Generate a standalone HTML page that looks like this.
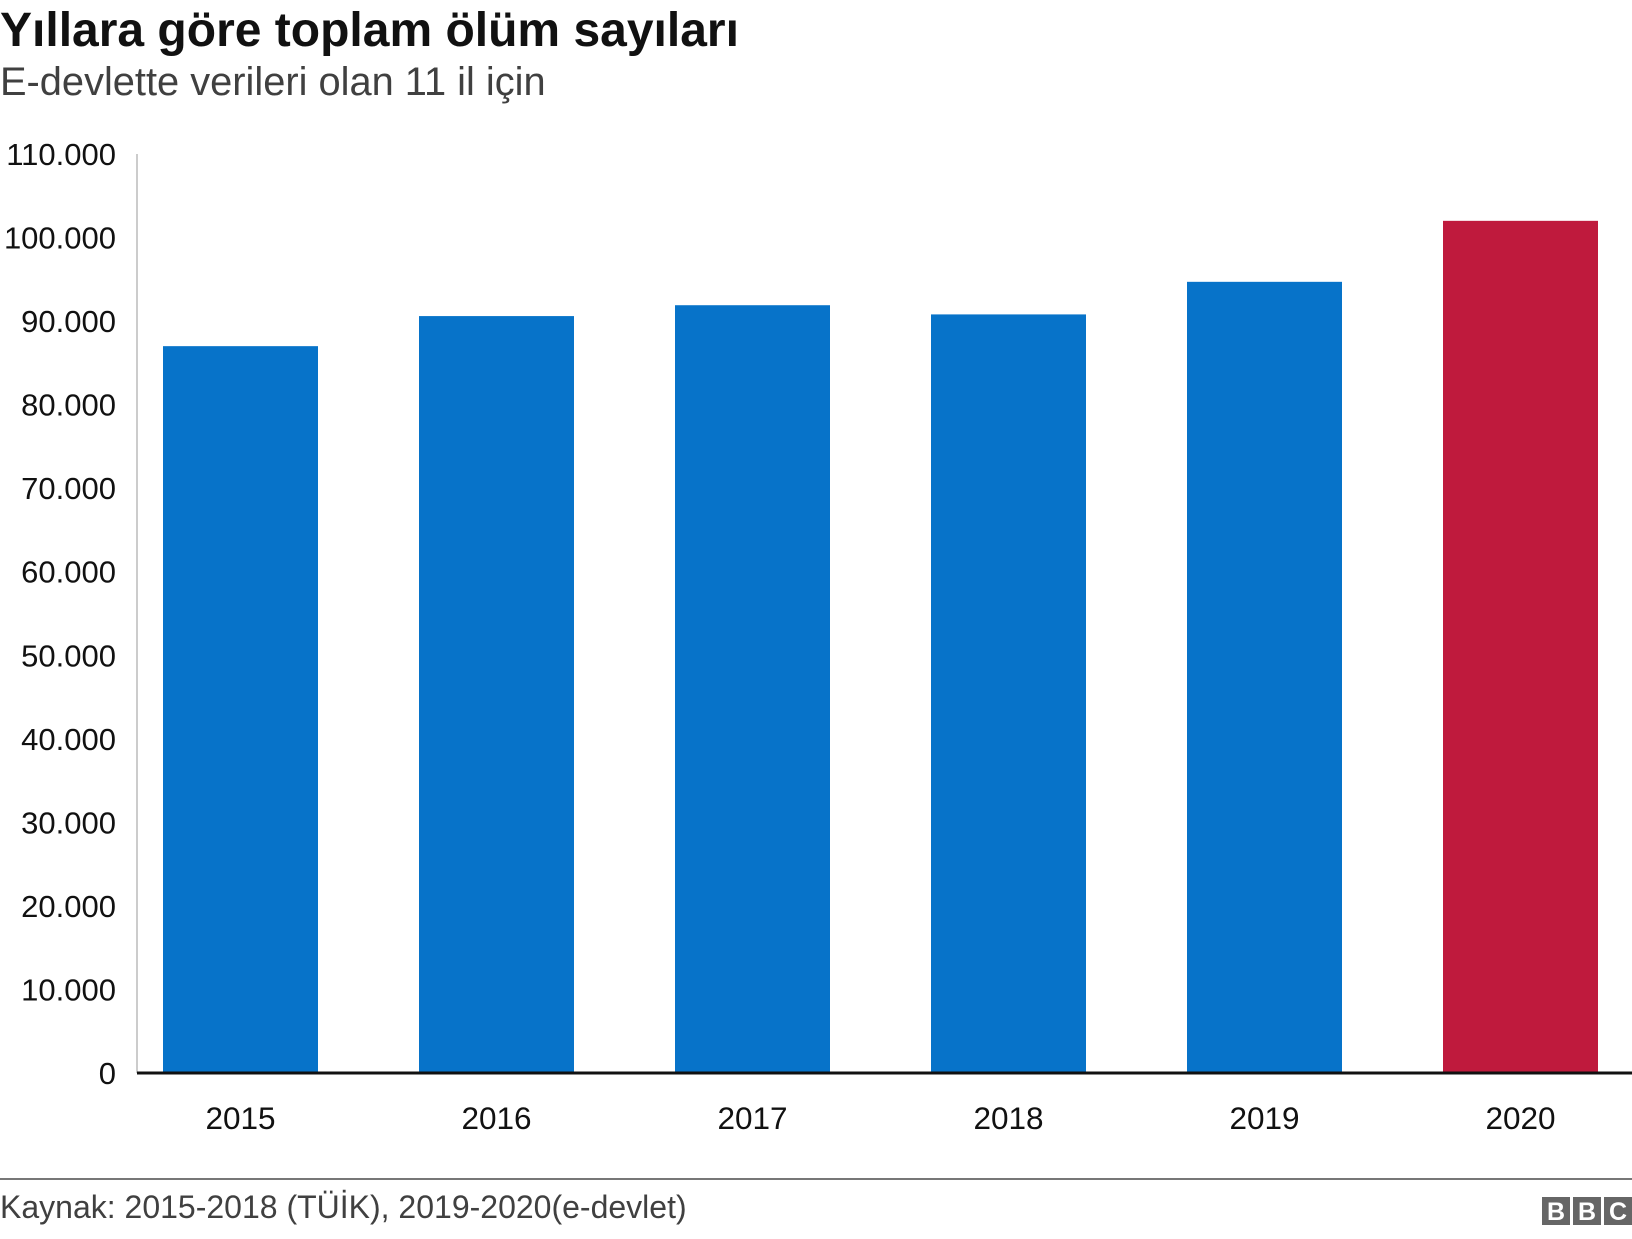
<!DOCTYPE html>
<html><head><meta charset="utf-8"><style>
body{margin:0;background:#fff;width:1632px;height:1234px;overflow:hidden;font-family:"Liberation Sans",Arial,sans-serif}
</style></head><body>
<svg width="1632" height="1234" xmlns="http://www.w3.org/2000/svg" font-family="Liberation Sans, Arial, sans-serif">
<text x="0" y="46" font-size="48" font-weight="bold" fill="#111">Yıllara göre toplam ölüm sayıları</text>
<text x="0" y="95" font-size="39.8" fill="#404040">E-devlette verileri olan 11 il için</text>
<g id="yaxis"></g>
<g id="bars"></g>
<g id="xaxis"></g>
<line x1="0" y1="1179" x2="1632" y2="1179" stroke="#777" stroke-width="2"/>
<text x="0" y="1218" font-size="32" fill="#404040">Kaynak: 2015-2018 (TÜİK), 2019-2020(e-devlet)</text>
<g>
<rect x="1542" y="1197" width="28" height="28" fill="#666"/><rect x="1573" y="1197" width="28" height="28" fill="#666"/><rect x="1604" y="1197" width="28" height="28" fill="#666"/>
<text x="1556" y="1220" font-size="25" font-weight="bold" fill="#fff" text-anchor="middle">B</text>
<text x="1587" y="1220" font-size="25" font-weight="bold" fill="#fff" text-anchor="middle">B</text>
<text x="1618" y="1220" font-size="25" font-weight="bold" fill="#fff" text-anchor="middle">C</text>
</g>
</svg>
<script>
const years=["2015","2016","2017","2018","2019","2020"];
const deaths=[87000,90600,91900,90800,94700,102000];
const tickValues=[0,10000,20000,30000,40000,50000,60000,70000,80000,90000,100000,110000];
const tickLabels=["0","10.000","20.000","30.000","40.000","50.000","60.000","70.000","80.000","90.000","100.000","110.000"];
const NS="http://www.w3.org/2000/svg";
const y0=1073,yTop=154,yMax=110000;
function y(v){return y0-(v/yMax)*(y0-yTop);}
function x(i){return 163+i*256;}
const bw=155;
const ya=document.getElementById('yaxis'),bg=document.getElementById('bars'),xa=document.getElementById('xaxis');
function mk(t,a){const e=document.createElementNS(NS,t);for(const k in a)e.setAttribute(k,a[k]);return e;}
const vl=mk('line',{x1:137,y1:yTop,x2:137,y2:y0,stroke:'#ccc','stroke-width':2});


ya.appendChild(vl);
tickValues.forEach((v,i)=>{
 const t=mk('text',{x:116,y:y(v)+11,'font-size':31,fill:'#111','text-anchor':'end'});
 t.textContent=tickLabels[i];
 
 
 ya.appendChild(t);
});
deaths.forEach((v,i)=>{
 const r=mk('rect',{x:x(i),y:y(v),width:bw,height:y0-y(v),fill:i===5?'#bf1a3d':'#0773c9'});
 
 
 bg.appendChild(r);
 const t=mk('text',{x:x(i)+bw/2,y:1129,'font-size':31.5,fill:'#111','text-anchor':'middle'});
 t.textContent=years[i];
 
 
 xa.appendChild(t);
});
const bl=mk('line',{x1:137,y1:y0,x2:1632,y2:y0,stroke:'#111','stroke-width':3});


xa.appendChild(bl);
</script>
</body></html>
